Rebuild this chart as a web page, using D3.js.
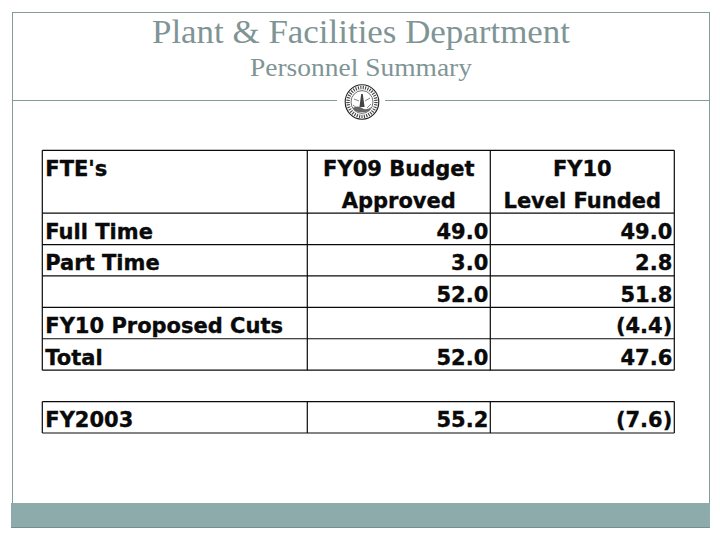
<!DOCTYPE html>
<html><head><meta charset="utf-8">
<script src="https://cdn.jsdelivr.net/npm/d3@7/dist/d3.min.js"></script>
<style>html,body{margin:0;padding:0;background:#fff;overflow:hidden}svg{display:block}</style>
</head><body><svg id="c" width="720" height="540"></svg>
<script>
const title = "Plant & Facilities Department";
const subtitle = "Personnel Summary";
const rowLabels = ["Full Time","Part Time","","FY10 Proposed Cuts","Total","","FY2003"];
const fy09Values = ["49.0","3.0","52.0","","52.0","","55.2"];
const fy10Values = ["49.0","2.8","51.8","(4.4)","47.6","","(7.6)"];
const headerLabel = "FTE's";
const fy09Header = ["FY09 Budget","Approved"];
const fy10Header = ["FY10","Level Funded"];
const columns = ["label","fy09","fy10","end"];

const svg = d3.select("#c");
const frameColor = "#859a9a", footColor = "#8cabaa", textColor = "#7f9595";

// frame, rule, footer
svg.append("rect").attr("x",12.5).attr("y",12.5).attr("width",697).attr("height",500)
  .attr("fill","none").attr("stroke",frameColor).attr("stroke-width",1);
[[12.5,337],[385,709.5]].forEach(d=>svg.append("line").attr("x1",d[0]).attr("x2",d[1]).attr("y1",100.5).attr("y2",100.5)
  .attr("stroke",frameColor));
svg.append("rect").attr("x",11).attr("y",503).attr("width",699).attr("height",24.5).attr("fill",footColor);
svg.append("line").attr("x1",11).attr("x2",710).attr("y1",527.5).attr("y2",527.5).attr("stroke","#76908f");

// titles
svg.append("text").attr("x",361).attr("y",43).attr("text-anchor","middle")
  .attr("font-family","'Liberation Serif'").attr("font-size",33).attr("textLength",418).attr("lengthAdjust","spacingAndGlyphs")
  .attr("fill",textColor).text(title);
svg.append("text").attr("x",361).attr("y",75.5).attr("text-anchor","middle")
  .attr("font-family","'Liberation Serif'").attr("font-size",25.5).attr("textLength",222).attr("lengthAdjust","spacingAndGlyphs")
  .attr("fill",textColor).text(subtitle);

// seal
const seal = svg.append("g").attr("transform","translate(362,102)");
seal.append("ellipse").attr("rx",16.8).attr("ry",17.2).attr("fill","#fff").attr("stroke","#222").attr("stroke-width",1.1);
seal.append("ellipse").attr("rx",14).attr("ry",14.4).attr("fill","none").attr("stroke","#444").attr("stroke-width",3.4).attr("stroke-dasharray","1.1 1.3");
seal.append("ellipse").attr("rx",11).attr("ry",11.4).attr("fill","none").attr("stroke","#333").attr("stroke-width",.7);
seal.append("path").attr("d","M-0.8 -8L0.8 -8L1.6 -2L2.6 5L-2.6 5L-1.6 -2Z").attr("fill","#444");
seal.append("path").attr("d","M-9 3L-5 6M9 2L5 6M-8 -3L-3 -1M8 -4L3 -1").attr("stroke","#777").attr("stroke-width",.9).attr("fill","none");
seal.append("path").attr("d","M-9.5 6Q-4 3 0 6T9.5 5L7 9Q0 11.5 -7 9Z").attr("fill","#666");

// table scales
const y = d3.scaleLinear().domain([0,9]).range([150.3,433]);
const x = d3.scaleOrdinal().domain(columns).range([42.3,307.3,490.3,674.3]);
const ink = "#0a0a0a";
const hLines = [0,2,3,4,5,6,7,8,9];
const grid = svg.append("g").attr("stroke",ink).attr("stroke-width",1.2);
grid.selectAll("line.h").data(hLines).join("line").attr("class","h")
  .attr("x1",x("label")).attr("x2",x("end")).attr("y1",d=>y(d)).attr("y2",d=>y(d));
[[0,7],[8,9]].forEach(span=>{
  grid.selectAll(null).data(columns).join("line")
    .attr("x1",d=>x(d)).attr("x2",d=>x(d)).attr("y1",y(span[0])).attr("y2",y(span[1]));
});

const table = svg.append("g").attr("font-family","'DejaVu Sans'").attr("font-weight","bold").attr("font-size",21)
  .attr("fill",ink).attr("stroke",ink).attr("stroke-width",.35);
const baseOffset = -5.6;
table.append("text").attr("x",x("label")+3).attr("y",y(1)+baseOffset).text(headerLabel);
const hdr = (lines,cx)=>lines.forEach((t,i)=>table.append("text").attr("x",cx).attr("text-anchor","middle")
  .attr("y",y(i+1)+baseOffset).text(t));
hdr(fy09Header,(x("fy09")+x("fy10"))/2);
hdr(fy10Header,(x("fy10")+x("end"))/2);

const rows = rowLabels.map((l,i)=>({l,a:fy09Values[i],b:fy10Values[i],r:i+3}));
const g = table.selectAll("g.row").data(rows).join("g").attr("class","row");
g.append("text").attr("x",x("label")+3).attr("y",d=>y(d.r)+baseOffset).text(d=>d.l);
g.append("text").attr("x",x("fy10")-2).attr("text-anchor","end").attr("y",d=>y(d.r)+baseOffset).text(d=>d.a);
g.append("text").attr("x",x("end")-2).attr("text-anchor","end").attr("y",d=>y(d.r)+baseOffset).text(d=>d.b);
</script></body></html>
